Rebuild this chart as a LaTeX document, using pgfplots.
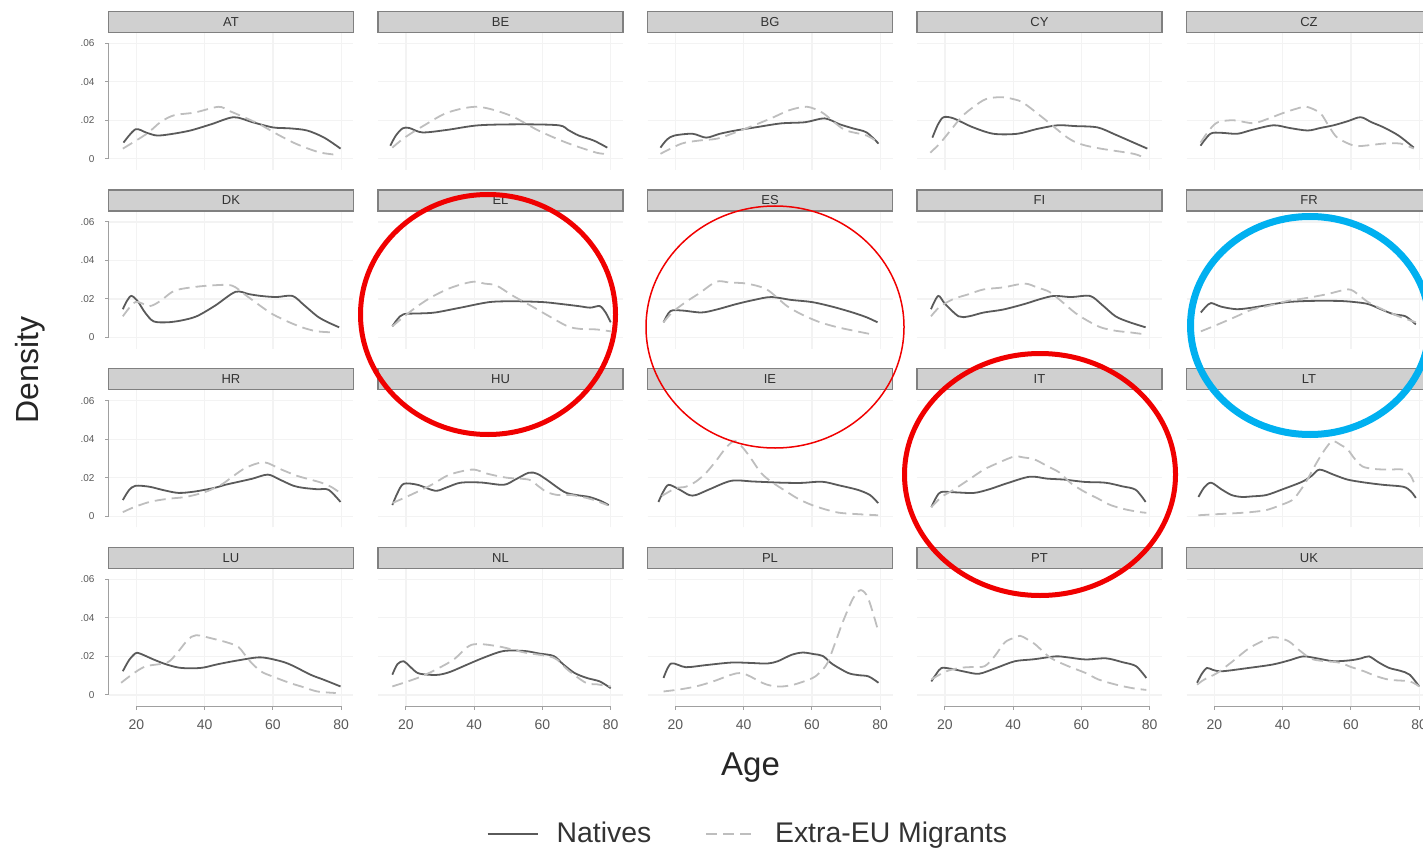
\documentclass[border=0pt]{standalone}
\usepackage{fontspec}
\setmainfont{Liberation Sans}
\usepackage{pgfplots}
\pgfplotsset{compat=1.18}

\definecolor{natc}{HTML}{5A5A5A}
\definecolor{migc}{HTML}{BEBEBE}
\definecolor{stripfill}{HTML}{D0D0D0}
\definecolor{stripline}{HTML}{808080}
\definecolor{gridc}{HTML}{F3F3F3}
\definecolor{axc}{HTML}{A0A0A0}
\definecolor{ringblue}{HTML}{00B0F0}
\definecolor{ringred}{HTML}{F00000}

\tikzset{
  nat/.style={color=natc, line width=0.9pt, smooth, tension=0.5, mark=none},
  mig/.style={color=migc, line width=0.9pt, smooth, tension=0.5, mark=none, dash pattern=on 5.5pt off 3pt},
}

\pgfplotsset{
  panel/.style={
    scale only axis, width=122.5pt, height=68.5pt,
    xmin=11.8, xmax=83.6, ymin=-0.0058, ymax=0.0653,
    clip=false,
    axis line style={draw=none},
    tick style={draw=none},
    xtick={20,40,60,80}, ytick={0,0.02,0.04,0.06},
    xticklabels={}, yticklabels={},
    scaled y ticks=false,
    grid=major, major grid style={gridc, line width=0.6pt},
    anchor=north west,
    every axis title/.style={
      at={(0.5,1)}, anchor=south, fill=stripfill, draw=stripline,
      line width=0.7pt, minimum width=122.5pt, minimum height=10.5pt,
      inner sep=0pt, font=\fontsize{6.5}{7}\selectfont, text=black!80},
    yticklabel style={font=\fontsize{5}{6}\selectfont, text=black!65, anchor=east, xshift=-3.5pt},
    xticklabel style={font=\fontsize{7}{8}\selectfont, text=black!65, anchor=north, yshift=-3.3pt},
  },
  firstcol/.style={yticklabels={0,.02,.04,.06}},
  bottomrow/.style={xticklabels={20,40,60,80}},
}

% Stata-style partial axis lines
\newcommand{\yaxisdeco}{%
  \draw[axc, line width=0.5pt] (axis cs:11.8,0) -- (axis cs:11.8,0.06);
  \draw[axc, line width=0.5pt] (axis cs:11.8,0) -- ++(-2pt,0pt);
  \draw[axc, line width=0.5pt] (axis cs:11.8,0.02) -- ++(-2pt,0pt);
  \draw[axc, line width=0.5pt] (axis cs:11.8,0.04) -- ++(-2pt,0pt);
  \draw[axc, line width=0.5pt] (axis cs:11.8,0.06) -- ++(-2pt,0pt);
}
\newcommand{\xaxisdeco}{%
  \draw[axc, line width=0.5pt] (axis cs:20,-0.0058) -- (axis cs:80,-0.0058);
  \draw[axc, line width=0.5pt] (axis cs:20,-0.0058) -- ++(0pt,-2pt);
  \draw[axc, line width=0.5pt] (axis cs:40,-0.0058) -- ++(0pt,-2pt);
  \draw[axc, line width=0.5pt] (axis cs:60,-0.0058) -- ++(0pt,-2pt);
  \draw[axc, line width=0.5pt] (axis cs:80,-0.0058) -- ++(0pt,-2pt);
}

\begin{document}
\begin{tikzpicture}
\useasboundingbox (0,0) rectangle (711.5pt,-425pt);
\clip (0,0) rectangle (711.5pt,-425pt);

% ---------------- row 1 ----------------
\begin{axis}[panel, firstcol, at={(54.25pt,-16.5pt)}, title={AT}]
\yaxisdeco
\addplot[nat] coordinates {(16.2,0.0084)(19.7,0.0153)(23,0.0135)(26,0.0121)(30,0.0128)(35.8,0.0147)(42,0.018)(48.5,0.0216)(54,0.019)(60,0.0163)(65,0.0158)(70,0.0147)(75,0.011)(79.8,0.0053)};
\addplot[mig] coordinates {(16,0.0053)(23,0.013)(27,0.019)(31,0.0226)(37,0.024)(44,0.027)(47,0.025)(51,0.022)(56,0.018)(61,0.013)(66,0.0084)(70,0.0055)(74,0.0032)(79,0.002)};
\end{axis}

\begin{axis}[panel, at={(189pt,-16.5pt)}, title={BE}]
\addplot[nat] coordinates {(15.4,0.0068)(17,0.012)(19,0.0158)(21,0.016)(24.8,0.0137)(32,0.015)(41.3,0.0174)(53.9,0.0179)(64.8,0.0174)(67.5,0.015)(70.6,0.0121)(75,0.0095)(79,0.0058)};
\addplot[mig] coordinates {(16,0.0058)(19.6,0.011)(25,0.017)(32.2,0.024)(41,0.027)(50.4,0.0226)(58.8,0.0147)(67,0.0084)(75.8,0.0032)(79,0.0026)};
\end{axis}

\begin{axis}[panel, at={(323.75pt,-16.5pt)}, title={BG}]
\addplot[nat] coordinates {(15.6,0.0058)(17.5,0.010)(19.7,0.0121)(25,0.013)(29,0.011)(33,0.013)(37.6,0.0147)(44,0.0165)(51,0.0184)(58,0.019)(63.7,0.021)(68,0.018)(72,0.0158)(76,0.0137)(79.5,0.0079)};
\addplot[mig] coordinates {(15.6,0.0026)(21.8,0.0079)(27,0.0095)(32.3,0.0105)(38,0.014)(43,0.0174)(48,0.021)(53.5,0.0253)(58.6,0.027)(63,0.024)(66.5,0.019)(70,0.0147)(76,0.0121)(79.5,0.0084)};
\end{axis}

\begin{axis}[panel, at={(458.5pt,-16.5pt)}, title={CY}]
\addplot[nat] coordinates {(16.3,0.011)(18,0.018)(19.6,0.0216)(22.5,0.021)(28,0.0165)(34.2,0.013)(41.2,0.013)(47,0.0155)(53,0.0174)(58,0.017)(64.7,0.0163)(70,0.0125)(75.3,0.0084)(79.3,0.0053)};
\addplot[mig] coordinates {(15.7,0.0032)(18.5,0.008)(21.6,0.0147)(25,0.022)(28.4,0.027)(32,0.031)(36.3,0.032)(40,0.031)(43,0.029)(48.9,0.021)(55.9,0.011)(60,0.0075)(65.6,0.0053)(75.3,0.0026)(78.3,0.0005)};
\end{axis}

\begin{axis}[panel, at={(593.25pt,-16.5pt)}, title={CZ}]
\addplot[nat] coordinates {(15.9,0.0068)(18.8,0.013)(22,0.0135)(26.7,0.013)(31,0.015)(37.3,0.0174)(42,0.016)(47.3,0.0147)(51,0.016)(54.9,0.0174)(59,0.0195)(62.8,0.0216)(66,0.019)(69.6,0.0163)(74,0.012)(78.4,0.0058)};
\addplot[mig] coordinates {(15.9,0.0084)(18.5,0.015)(21,0.019)(25.6,0.02)(31.4,0.0185)(36,0.021)(40,0.0237)(44,0.026)(47,0.027)(51,0.0237)(53.5,0.017)(56,0.011)(60.9,0.0068)(65,0.007)(69.6,0.0079)(74.5,0.0079)(78.4,0.0053)};
\end{axis}

% ---------------- row 2 ----------------
\begin{axis}[panel, firstcol, at={(54.25pt,-105.85pt)}, title={DK}]
\yaxisdeco
\addplot[nat] coordinates {(16,0.0147)(17.2,0.019)(18.5,0.0216)(20.3,0.019)(22.5,0.013)(25,0.0084)(29,0.0079)(33,0.0088)(37.6,0.011)(43,0.0165)(49,0.0237)(53,0.0225)(56.4,0.0216)(61,0.021)(65.7,0.0216)(69,0.017)(73,0.011)(76,0.008)(79.4,0.0053)};
\addplot[mig] coordinates {(16,0.011)(19.7,0.0184)(23.8,0.0163)(27,0.019)(31,0.0242)(36,0.026)(41.7,0.027)(47.9,0.027)(52,0.022)(56.4,0.0163)(60,0.012)(64.8,0.0079)(69,0.005)(73,0.0032)(78.4,0.0026)};
\end{axis}

\begin{axis}[panel, at={(189pt,-105.85pt)}, title={EL}]
\addplot[nat] coordinates {(16,0.0058)(17.5,0.0095)(19.3,0.0121)(24,0.0125)(28.6,0.013)(36,0.0155)(44.5,0.0184)(52,0.0188)(60,0.0184)(65,0.0175)(70.6,0.0163)(74,0.0155)(76.8,0.0163)(78.5,0.013)(80,0.0079)};
\addplot[mig] coordinates {(16,0.0058)(19.5,0.011)(23.4,0.0163)(27.5,0.021)(32,0.025)(36,0.0275)(40,0.029)(43,0.028)(46.5,0.027)(51,0.022)(56.8,0.0163)(62,0.011)(67.4,0.0058)(71,0.0045)(75.8,0.0042)(80,0.0032)};
\end{axis}

\begin{axis}[panel, at={(323.75pt,-105.85pt)}, title={ES}]
\addplot[nat] coordinates {(16.5,0.0079)(18.5,0.0137)(22,0.014)(27.6,0.013)(32,0.0145)(37.9,0.0174)(43,0.0195)(48,0.021)(54,0.0195)(60,0.0184)(66,0.016)(71.9,0.013)(76,0.0105)(79.2,0.0079)};
\addplot[mig] coordinates {(16.5,0.0079)(19,0.013)(23,0.0184)(27,0.023)(32,0.029)(36,0.0285)(40.8,0.028)(46.7,0.025)(52.7,0.0163)(57,0.012)(61.6,0.0084)(66,0.006)(70.4,0.0042)(77.7,0.0016)};
\end{axis}

\begin{axis}[panel, at={(458.5pt,-105.85pt)}, title={FI}]
\addplot[nat] coordinates {(15.9,0.0147)(18,0.0216)(20,0.0175)(24,0.011)(27,0.011)(31.4,0.013)(37,0.0145)(43.3,0.0174)(48,0.02)(52,0.0216)(57,0.021)(62.5,0.0216)(66,0.017)(70,0.011)(74,0.008)(78.8,0.0053)};
\addplot[mig] coordinates {(15.9,0.011)(18.5,0.016)(22.5,0.02)(27,0.0225)(31.4,0.025)(37,0.026)(43.3,0.028)(47,0.026)(50.6,0.0237)(54,0.019)(58,0.013)(61.5,0.009)(65.6,0.0053)(70,0.0035)(74.5,0.0026)(78.8,0.0016)};
\end{axis}

\begin{axis}[panel, at={(593.25pt,-105.85pt)}, title={FR}]
\addplot[nat] coordinates {(16,0.013)(17.5,0.016)(19,0.0179)(22,0.016)(26.5,0.0147)(31,0.0155)(36,0.017)(41.4,0.0184)(48,0.019)(56.2,0.019)(60.5,0.0185)(65,0.0174)(69,0.0145)(72.5,0.0121)(76,0.011)(79,0.0068)};
\addplot[mig] coordinates {(16,0.0032)(21,0.0068)(26.5,0.011)(31,0.0145)(36,0.0165)(41.4,0.019)(47,0.0205)(53,0.0225)(59.2,0.025)(62,0.0225)(65,0.0184)(70,0.014)(74,0.011)(79,0.0079)};
\end{axis}

% ---------------- row 3 ----------------
\begin{axis}[panel, firstcol, at={(54.25pt,-195.2pt)}, title={HR}]
\yaxisdeco
\addplot[nat] coordinates {(16,0.0084)(17.8,0.0135)(19.7,0.0158)(23.8,0.0153)(28,0.0135)(32.3,0.0121)(37,0.0128)(42.8,0.0147)(46,0.0163)(50,0.0179)(54,0.0195)(58.5,0.0216)(62,0.019)(66,0.0158)(69,0.0147)(73,0.014)(76.3,0.0137)(79.8,0.0074)};
\addplot[mig] coordinates {(16,0.0021)(19,0.0045)(23.8,0.0074)(29,0.009)(34.4,0.01)(40,0.0125)(44.8,0.0163)(48.5,0.021)(52.2,0.0253)(57.4,0.028)(62.5,0.0242)(67,0.021)(71,0.019)(74,0.0175)(77,0.0153)(79.8,0.012)};
\end{axis}

\begin{axis}[panel, at={(189pt,-195.2pt)}, title={HU}]
\addplot[nat] coordinates {(16,0.0058)(17.5,0.012)(19.3,0.0168)(23.4,0.0163)(28.6,0.0132)(32,0.015)(36,0.0174)(42,0.0175)(48.6,0.0163)(52,0.019)(56,0.0226)(58.5,0.022)(61.2,0.019)(66.4,0.0126)(70,0.011)(73.7,0.01)(77,0.008)(79.4,0.0058)};
\addplot[mig] coordinates {(16,0.0068)(21.3,0.011)(27.5,0.0163)(32,0.021)(36,0.0232)(40,0.0242)(44,0.022)(49.5,0.02)(56,0.019)(58.5,0.016)(61.2,0.0126)(64.5,0.011)(68.5,0.011)(74,0.009)(79,0.0058)};
\end{axis}

\begin{axis}[panel, at={(323.75pt,-195.2pt)}, title={IE}]
\addplot[nat] coordinates {(15,0.0074)(16.5,0.013)(18,0.0163)(21,0.014)(24,0.011)(26,0.011)(30,0.014)(36.4,0.0184)(43,0.018)(51.2,0.0174)(57,0.0173)(63,0.0179)(68,0.016)(73.4,0.0137)(77,0.011)(79.4,0.0068)};
\addplot[mig] coordinates {(16,0.0105)(20,0.0145)(23,0.0153)(26,0.018)(29,0.0226)(32,0.029)(35,0.036)(37.5,0.039)(40,0.035)(42.5,0.029)(45,0.0226)(48,0.018)(52.7,0.0126)(56,0.009)(60,0.0058)(65,0.003)(69,0.0016)(79.4,0.0005)};
\end{axis}

\begin{axis}[panel, at={(458.5pt,-195.2pt)}, title={IT}]
\addplot[nat] coordinates {(16,0.0047)(17.5,0.01)(18.9,0.0126)(23,0.0124)(28.5,0.0121)(33,0.014)(38,0.017)(44.8,0.0205)(50,0.0195)(55,0.019)(61,0.0178)(67,0.0174)(72,0.0155)(75.9,0.0137)(78.8,0.0074)};
\addplot[mig] coordinates {(16,0.0047)(19,0.01)(22.5,0.0137)(27,0.019)(31.4,0.0242)(36,0.028)(40.3,0.031)(43,0.0305)(46.2,0.0295)(50,0.026)(53.6,0.0226)(57,0.017)(61,0.0126)(65,0.009)(68.5,0.0058)(73,0.0035)(77.3,0.0021)(79,0.0018)};
\end{axis}

\begin{axis}[panel, at={(593.25pt,-195.2pt)}, title={LT}]
\addplot[nat] coordinates {(15.3,0.01)(17,0.015)(19,0.0174)(22,0.014)(25,0.011)(28,0.01)(31,0.0103)(35.2,0.011)(40,0.014)(45.7,0.0179)(48.5,0.021)(50.8,0.0242)(55,0.0215)(59,0.019)(64,0.0175)(69.4,0.0163)(75.3,0.0153)(77.5,0.013)(79,0.0095)};
\addplot[mig] coordinates {(15.3,0.0005)(20,0.001)(26.5,0.0016)(31,0.0022)(35.2,0.0032)(39,0.0055)(42.8,0.0084)(45,0.013)(47.2,0.019)(50,0.028)(52.5,0.035)(54.6,0.039)(57,0.037)(59,0.0347)(61,0.03)(63.4,0.0258)(67,0.0245)(70.9,0.0242)(75.3,0.0242)(77.5,0.021)(79,0.015)};
\end{axis}

% ---------------- row 4 ----------------
\begin{axis}[panel, firstcol, bottomrow, at={(54.25pt,-284.55pt)}, title={LU}]
\yaxisdeco\xaxisdeco
\addplot[nat] coordinates {(16,0.0123)(17.8,0.018)(19.7,0.0216)(21,0.0215)(25,0.0184)(28.5,0.016)(32.3,0.0142)(36,0.0138)(39.6,0.0142)(44,0.016)(50,0.018)(56.4,0.0195)(62.5,0.0174)(66,0.015)(71,0.0105)(75,0.0078)(79.8,0.0044)};
\addplot[mig] coordinates {(15.5,0.0063)(19,0.011)(22.8,0.0149)(29,0.0168)(32,0.022)(35,0.0285)(37.5,0.031)(42.8,0.029)(47,0.027)(50,0.0247)(53,0.018)(56.4,0.0123)(60,0.0095)(64.8,0.0063)(69,0.004)(73,0.0018)(78.4,0.001)};
\end{axis}

\begin{axis}[panel, bottomrow, at={(189pt,-284.55pt)}, title={NL}]
\xaxisdeco
\addplot[nat] coordinates {(16,0.0105)(17.5,0.016)(19.3,0.0175)(21,0.015)(23.4,0.0114)(26.5,0.0105)(29.7,0.0105)(33,0.012)(38,0.0158)(43,0.0195)(48.6,0.0228)(54.8,0.0228)(59,0.0215)(63.3,0.0202)(66,0.016)(69.4,0.0114)(73,0.0088)(76.8,0.007)(80,0.0035)};
\addplot[mig] coordinates {(16,0.0044)(23.4,0.0088)(28.6,0.013)(34,0.0184)(39.2,0.026)(46.5,0.0254)(54.8,0.022)(63.3,0.0193)(67.4,0.013)(72.7,0.0063)(76,0.0055)(80,0.0044)};
\end{axis}

\begin{axis}[panel, bottomrow, at={(323.75pt,-284.55pt)}, title={PL},
  legend columns=2,
  legend image code/.code={\draw[#1] (0pt,0pt) -- (25pt,0pt);},
  legend style={at={(0.414,-0.934)}, anchor=center, draw=none, fill=none,
    font=\fontsize{14.2}{16}\selectfont, text=black!80,
    inner xsep=0pt, inner ysep=0pt,
    /tikz/every odd column/.append style={column sep=7pt},
    /tikz/every even column/.append style={column sep=25pt}}]
\xaxisdeco
\addplot[nat] coordinates {(16.5,0.0088)(18.7,0.0163)(23,0.0144)(29,0.0155)(36.4,0.0168)(42,0.0166)(46.9,0.0163)(50,0.0175)(54,0.0208)(57.3,0.022)(60.5,0.0212)(63.2,0.0202)(66,0.016)(70.6,0.0114)(73.5,0.0103)(76.6,0.0096)(79.5,0.0063)};
\addlegendentry{Natives}
\addplot[mig] coordinates {(16.5,0.0018)(21,0.0028)(26,0.0044)(31,0.007)(36.4,0.0105)(39.3,0.0114)(42,0.0095)(45.4,0.0063)(48,0.0048)(51.3,0.0044)(55,0.0055)(60.2,0.0088)(62.5,0.012)(64.6,0.0168)(67,0.028)(69,0.0377)(72,0.05)(74.3,0.0544)(76.5,0.05)(79.5,0.0326)};
\addlegendentry{Extra-EU Migrants}
\end{axis}

\begin{axis}[panel, bottomrow, at={(458.5pt,-284.55pt)}, title={PT}]
\xaxisdeco
\addplot[nat] coordinates {(16,0.007)(17.5,0.011)(19,0.014)(22,0.0135)(26,0.012)(30,0.011)(35,0.014)(40.5,0.0175)(46,0.0185)(52.4,0.02)(56,0.0195)(61.2,0.0184)(67.2,0.019)(72,0.017)(76,0.0149)(79,0.0088)};
\addplot[mig] coordinates {(16,0.008)(20,0.012)(24.2,0.014)(28,0.0145)(31.6,0.0149)(34.5,0.02)(37.5,0.0272)(40,0.0295)(42,0.0307)(44,0.029)(46.4,0.0263)(50.9,0.0193)(56,0.015)(61.2,0.0114)(65,0.008)(70.2,0.0053)(75,0.0035)(79,0.0026)};
\end{axis}

\begin{axis}[panel, bottomrow, at={(593.25pt,-284.55pt)}, title={UK}]
\xaxisdeco
\addplot[nat] coordinates {(14.9,0.0063)(16.3,0.011)(17.8,0.014)(19.5,0.013)(22.3,0.0123)(30,0.014)(37.1,0.0158)(42,0.018)(46,0.02)(50,0.019)(54.9,0.0175)(60,0.018)(63,0.019)(65.3,0.02)(68,0.017)(71.2,0.014)(74.5,0.0125)(77.2,0.0105)(80,0.0044)};
\addplot[mig] coordinates {(14.9,0.0053)(17,0.008)(20.8,0.0114)(25,0.017)(29.7,0.0237)(33,0.027)(37.1,0.03)(41.6,0.028)(45,0.023)(49,0.0184)(56.4,0.0168)(60,0.0145)(63.8,0.0123)(67,0.01)(71.2,0.0079)(77.2,0.007)(80,0.0044)};
\end{axis}

% shared axis titles
\node[rotate=90, font=\fontsize{16}{18}\selectfont, text=black!85] at (15pt,-185pt) {Density};
\node[font=\fontsize{16.5}{18}\selectfont, text=black!85] at (375.25pt,-384pt) {Age};

% highlight rings
\draw[ringred, line width=2.5pt] (244pt,-157.25pt) ellipse [x radius=63.75pt, y radius=60pt];
\draw[ringred, line width=0.75pt] (387.5pt,-163.5pt) ellipse [x radius=64.5pt, y radius=60.5pt];
\draw[ringred, line width=2.5pt] (520pt,-237.25pt) ellipse [x radius=67.75pt, y radius=60.5pt];
\draw[ringblue, line width=3.5pt] (655pt,-162.75pt) ellipse [x radius=59.75pt, y radius=54.5pt];
\end{tikzpicture}
\end{document}
